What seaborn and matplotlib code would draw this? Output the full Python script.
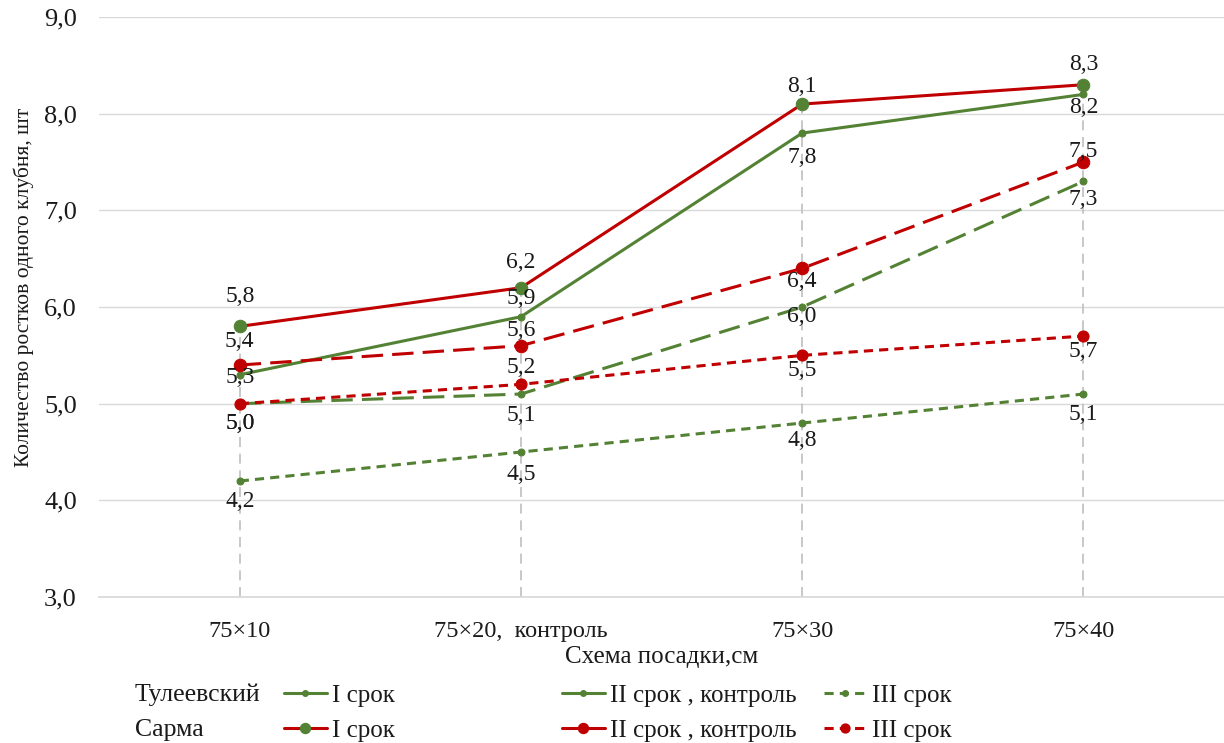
import matplotlib
matplotlib.use("Agg")
import matplotlib.pyplot as plt
from matplotlib.lines import Line2D
import seaborn as sns
import pandas as pd

# data
schemes = ["75×10", "75×20,  контроль", "75×30", "75×40"]
tul_1 = [5.3, 5.9, 7.8, 8.2]
tul_2 = [5.0, 5.1, 6.0, 7.3]
tul_3 = [4.2, 4.5, 4.8, 5.1]
sar_1 = [5.8, 6.2, 8.1, 8.3]
sar_2 = [5.4, 5.6, 6.4, 7.5]
sar_3 = [5.0, 5.2, 5.5, 5.7]
row_titles = ["Тулеевский", "Сарма"]
term_names = ["I срок", "II срок , контроль", "III срок"]

GREEN = "#548235"
RED = "#C00000"
TXT = "#1a1a1a"
LONG = (7, 3)
SHORT = (3, 2)
FONT = ["Liberation Serif", "DejaVu Serif"]

sns.set_theme(style="white")
plt.rcParams["font.family"] = FONT

fig = plt.figure(figsize=(12.24, 7.43), dpi=100)
ax = fig.add_axes([0.081, 0.1965, 0.919, 0.7805])

# (values, line colour, marker colour, marker size, dashes, label offsets in px)
series = [
    (tul_1, GREEN, GREEN, 5, None, [-3, 18, -24, -13]),
    (tul_2, GREEN, GREEN, 5, LONG, [-20, -21, -9, -18]),
    (tul_3, GREEN, GREEN, 5, SHORT, [-20, -22, -17, -20]),
    (sar_1, RED, GREEN, 9, None, [30, 25, 18, 20]),
    (sar_2, RED, RED, 9, LONG, [24, 15, -13, 11]),
    (sar_3, RED, RED, 8, SHORT, [-20, 17, -15, -15]),
]

# drop lines
tops = [max(v) for v in zip(*[s[0] for s in series])]
ax.vlines(range(len(schemes)), 3.0, tops, colors="#BFBFBF", linestyles=(0, (6, 4)), lw=1.2, zorder=1)

for vals, lc, mc, ms, dash, offs in series:
    df = pd.DataFrame({"x": schemes, "y": vals})
    sns.lineplot(data=df, x="x", y="y", ax=ax, color=lc, lw=2.2, sort=False,
                 marker="o", markersize=ms, markerfacecolor=mc, markeredgecolor=mc,
                 zorder=3)
    ln = ax.lines[-1]
    if dash is not None:
        ln.set_dashes(dash)
    for i, v in enumerate(vals):
        ax.annotate(f"{v:.1f}".replace(".", ","), (i, v), xytext=(0, offs[i]),
                    textcoords="offset pixels", ha="center", va="center",
                    fontsize=17, color=TXT, zorder=4)

ax.set_xlim(-0.5, 3.5)
ax.set_ylim(3.0, 9.0)
ax.set_yticks([3, 4, 5, 6, 7, 8, 9])
ax.set_yticklabels([f"{t:.1f}".replace(".", ",") for t in [3, 4, 5, 6, 7, 8, 9]])
ax.grid(axis="y", color="#D9D9D9", lw=1)
ax.set_axisbelow(True)
for s in ["left", "right", "top"]:
    ax.spines[s].set_visible(False)
ax.spines["bottom"].set_color("#D9D9D9")
ax.tick_params(axis="y", labelsize=19, pad=16, length=0, colors=TXT)
ax.tick_params(axis="x", labelsize=17.5, pad=17, length=0, colors=TXT)
ax.set_xlabel("Схема посадки,см", fontsize=18, color=TXT, labelpad=3)
ax.set_ylabel("Количество ростков одного клубня, шт", fontsize=15.5, color=TXT)
ax.yaxis.set_label_coords(-0.058, 0.534)

# legend laid out like the reference: row titles + three columns
for j, t in enumerate(row_titles):
    fig.text(135 / 1224, 1 - (695 + j * 35) / 743, t, fontsize=18.5, va="center",
             color=TXT, family=FONT)

col_x = [284, 562, 824]
for k, name in enumerate(term_names):
    s_t, s_s = series[k], series[k + 3]
    handles = []
    for vals, lc, mc, ms, dash, _ in (s_t, s_s):
        h = Line2D([], [], color=lc, lw=2.2, marker="o", markersize=ms * 0.8,
                   markerfacecolor=mc, markeredgecolor=mc,
                   linestyle=(0, SHORT) if dash == SHORT else "-")
        handles.append(h)
    fig.legend(handles, [name, name], loc="center left",
               bbox_to_anchor=(col_x[k] / 1224, 1 - 713 / 743), frameon=False,
               prop={"family": FONT, "size": 18}, handlelength=1.7,
               handletextpad=0.2, labelspacing=0.5,
               borderaxespad=0, borderpad=0, labelcolor=TXT)

fig.savefig("out.png", dpi=100)
